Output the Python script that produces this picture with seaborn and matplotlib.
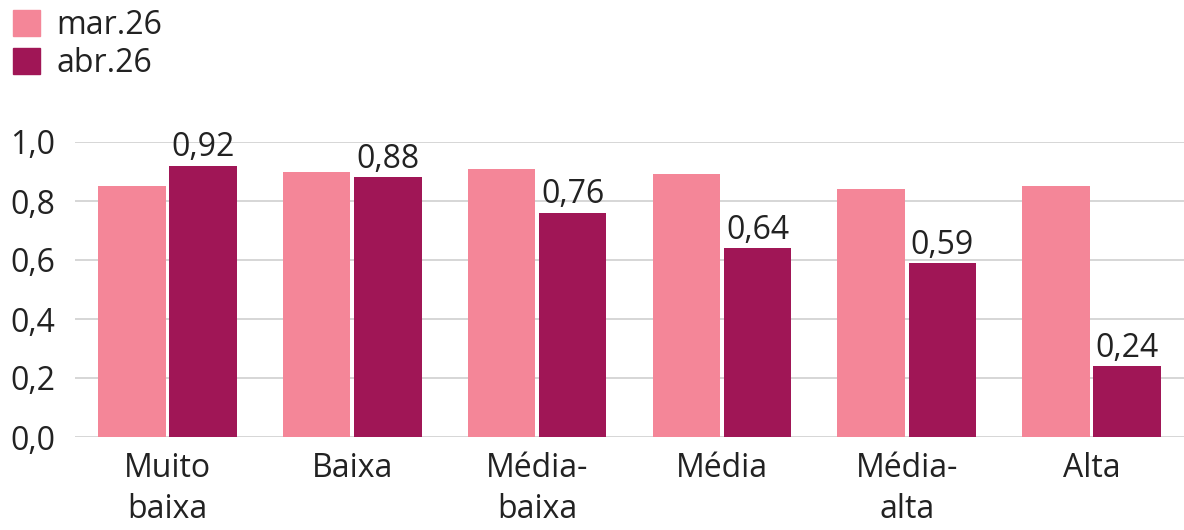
import numpy as np
import pandas as pd
import matplotlib
matplotlib.use("Agg")
import matplotlib.pyplot as plt
import matplotlib.patches as mpatches
import seaborn as sns

categories = ["Muito\nbaixa", "Baixa", "Média-\nbaixa", "Média", "Média-\nalta", "Alta"]
series = ["mar.26", "abr.26"]
mar26 = [0.85, 0.90, 0.91, 0.89, 0.84, 0.85]
abr26 = [0.92, 0.88, 0.76, 0.64, 0.59, 0.24]
yticks = [0.0, 0.2, 0.4, 0.6, 0.8, 1.0]

colors = ["#F48698", "#A01656"]

df = pd.DataFrame({
    "cat": categories * 2,
    "serie": [series[0]] * len(categories) + [series[1]] * len(categories),
    "valor": mar26 + abr26,
})

sns.set_style("white")
plt.rcParams["font.family"] = ["Open Sans", "DejaVu Sans"]

fig = plt.figure(figsize=(11.84, 5.30), dpi=100)
ax = fig.add_axes([75 / 1184, 1 - 437 / 530, 1 - 75 / 1184, (437 - 142) / 530])

sns.barplot(data=df, x="cat", y="valor", hue="serie", palette=colors,
            saturation=1, width=0.77, gap=0.05, linewidth=0,
            ax=ax, legend=False, zorder=3)

# labels only on the april bars
abr_bars = ax.containers[1]
ax.bar_label(abr_bars, labels=[f"{v:.2f}".replace(".", ",") for v in abr26],
             padding=1, fontsize=23, color="#222222", clip_on=False)

ax.set_xlim(-0.5, 5.5)
ax.set_ylim(0, 1.0)
ax.set_yticks(yticks)
ax.set_yticklabels([f"{t:.1f}".replace(".", ",") for t in yticks])
ax.yaxis.grid(True, color="#d3d3d3", linewidth=1.3, zorder=0)
ax.set_axisbelow(True)
for s in ax.spines.values():
    s.set_visible(False)
ax.tick_params(axis="both", length=0, labelsize=23, colors="#222222")
ax.tick_params(axis="y", pad=14)
ax.tick_params(axis="x", pad=11)
for lbl in ax.get_xticklabels():
    lbl.set_linespacing(1.3)
ax.set_xlabel("")
ax.set_ylabel("")

handles = [mpatches.Patch(color=c, label=s) for c, s in zip(colors, series)]
fig.legend(handles=handles, loc="upper left", bbox_to_anchor=(-0.008, 1.025),
           frameon=False, fontsize=23, handlelength=0.85, handleheight=0.85,
           handletextpad=0.5, labelspacing=0.15, borderaxespad=0.3,
           labelcolor="#222222")

fig.savefig("out.png", dpi=100)
